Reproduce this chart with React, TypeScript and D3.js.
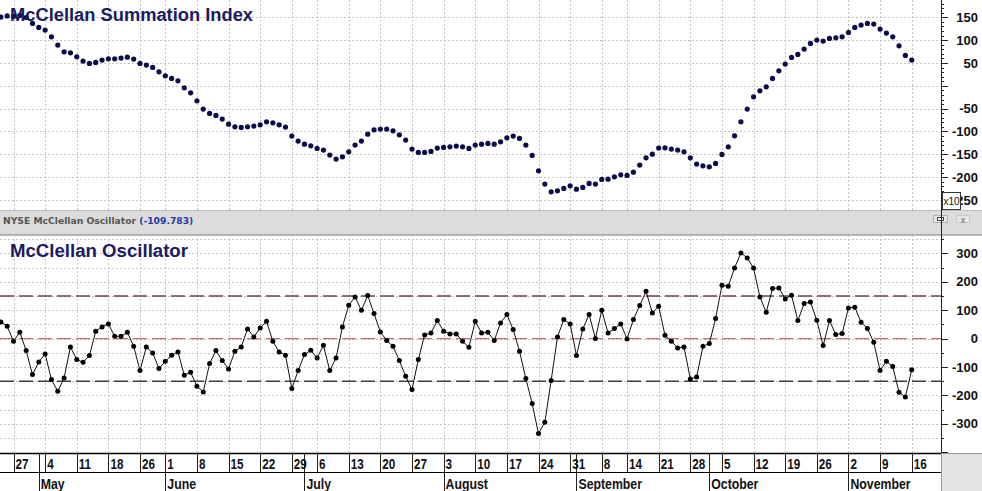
import React from "react";
import * as d3 from "d3";

// trading-day index 0 = Apr 27; data begins at index -2
const startIndex = -2;

const summation = [
  150.5, 153, 152, 154, 149.5, 136.6, 127.9, 122, 107.3, 89.1, 74.4, 72.3, 63.5, 54.1, 49.1, 51.2, 56.3, 59.1, 59.1, 60.7,
  62.8, 58.5, 49.1, 45.3, 40.3, 30.7, 21.9, 16.2, 10.9, -4.4, -15.3, -32.8, -51, -60.4, -64.8, -72.9, -83.9, -89.8, -91.1,
  -89.8, -88.2, -85.4, -78.8, -81, -85.4, -90.4, -110.1, -121.1, -127.7, -131.4, -137.1, -140.8, -151.7,
  -160.5, -155.5, -144.5, -129.8, -121.1, -105.8, -96.3, -94.8, -94.8, -98.5, -107.3, -118.9, -138.6, -145.8, -145.8,
  -143.6, -136.4, -134.9, -133.6, -132, -133.6, -137.1, -129.8, -127.7, -126.1, -127.7, -122.6, -113.9, -110.1, -115.2,
  -129.8, -152.4, -186.1, -215.2, -232.1, -229.9, -224.7, -219, -226.2, -222.5, -213.7, -215.2, -204.9, -204.3, -199.3,
  -194.9, -196.2, -189, -173.6, -157.7, -149.6, -136.4,
  -135.8, -138.6, -140.8, -144.5, -157.7, -171.4, -175.2, -177.4, -169.9, -150.2, -133.6, -109.5, -78.8, -51, -24.1,
  -10.9, -2.2, 16.2, 32.8, 47.5, 62.2, 68.8, 80.4, 92.8, 100.1, 97.9, 103.8, 105.1, 107.3, 116.9, 127.9, 132.9, 136.6,
  135.1, 124.2, 115.4, 107.3, 87.6, 66.6, 56.3,
];

const oscillator = [
  58.8, 43.3, -9.5, 22.2, -42.3, -126.8, -82, -53.9, -144.4, -185.6, -138.4, -29.2, -73.9, -83.5, -59.9, 25.7, 41.2,
  51.8, 8.1, 8.1, 22.2, -27.1, -112.7, -29.2, -50.4, -105.6, -79.9, -58.8, -46.8, -129.2, -118.7, -168, -187.7, -88,
  -42.3, -77.5, -106.7, -44.7, -29.2, 34.2, 6, 37.7, 60.9, -9.5, -46.8, -58.8, -176.1, -112.7, -56.3, -41.2, -68, -23.6,
  -112.7,
  -68, 41.2, 117.3, 146.8, 99.6, 151.4, 88, 23.6, -7, -27.1, -77.5, -132.7, -179.6, -73.9, 13, 20.1, 63.4, 25.7, 16.5,
  16.5, -9.5, -30.6, 60.9, 20.1, 22.2, -7, 55.3, 84.5, 31.7, -44.7, -140.8, -228.9, -334.5, -294.7, -147.9, 6, 66.9,
  51.8, -59.9, 34.2, 84.5, 0, 99.6, 20.1, 35.2, 51.8, -1, 66.9, 116.2, 166.5, 90.5, 113.7,
  11.6, -9.5, -32.7, -29.2, -141.9, -134.9, -27.1, -17.6, 70.4, 187.7, 184.2, 248.9, 301.8, 284.2, 248.9, 146.8, 92.6,
  176.1, 178.5, 139.8, 152.5, 63.4, 123.2, 129.2, 64.4, -24.6, 63.4, 14.1, 17.6, 108.1, 110.2, 57.4, 35.2, -13, -112.7,
  -79.9, -98.6, -189.1, -205.3, -109.783,
];

const weekTickIdx = [0, 5, 10, 15, 20, 24, 29, 34, 39, 44, 48, 53, 58, 63, 68, 73, 78, 83, 88, 93, 97, 102, 107, 112, 117, 122, 127, 132, 137, 142];
const weekTickLabels = ["27", "4", "11", "18", "26", "1", "8", "15", "22", "29", "6", "13", "20", "27", "3", "10", "17", "24", "31", "8", "14", "21", "28", "5", "12", "19", "26", "2", "9", "16"];
const monthIdx = [4, 24, 46, 68, 89, 110, 132];
const monthLabels = ["May", "June", "July", "August", "September", "October", "November"];

const topTickLabels = [150, 100, 50, -50, -100, -150, -200, -250];
const bottomTickLabels = [300, 200, 100, 0, -100, -200, -300];
const bandLevels = [150, 0, -150];
const lastValueText = "(-109.783)";

const W = 982;
const H = 491;
const plotRight = 941;
const topY0 = 0, topY1 = 210;
const botY0 = 235, botY1 = 453;
const rowY1 = 472;

export default function App() {
  const x = d3.scaleLinear().domain([0, 142]).range([13.5, 911.7]);
  const yTop = d3.scaleLinear().domain([-250, 150]).range([200, 17.3]);
  const yBot = d3.scaleLinear().domain([-300, 300]).range([423.8, 253.4]);

  const sumPts = summation.map((v, k) => ({ i: k + startIndex, v }));
  const oscPts = oscillator.map((v, k) => ({ i: k + startIndex, v }));

  const oscLine = d3
    .line<{ i: number; v: number }>()
    .x((d) => x(d.i))
    .y((d) => yBot(d.v));

  const topGrid = d3.range(-250, 151, 50);
  const botGrid = d3.range(-350, 351, 50);
  const topMinor = d3.range(-270, 190, 10).filter((v) => yTop(v) > topY0 && yTop(v) < topY1);
  const botMinor = d3.range(-400, 400, 50).filter((v) => yBot(v) > botY0 && yBot(v) < botY1);

  const axisFont = "'Liberation Sans', Arial, sans-serif";
  const gridColor = "#c4c4c4";
  const bandColors = ["#6a4444", "#c07070", "#3c3c3c"];

  return (
    <svg width={W} height={H} style={{ position: "absolute", left: 0, top: 0, background: "#fff" }}>
      <rect x={0} y={0} width={W} height={H} fill="#fff" />
      <defs>
        <clipPath id="clipTop">
          <rect x={0} y={topY0} width={plotRight} height={topY1 - topY0} />
        </clipPath>
        <clipPath id="clipBot">
          <rect x={0} y={botY0} width={plotRight} height={botY1 - botY0} />
        </clipPath>
      </defs>

      {/* Top panel grid */}
      <g stroke={gridColor} strokeWidth={1} strokeDasharray="2,2">
        {topGrid.map((v) => (
          <line key={"tg" + v} x1={0} x2={plotRight} y1={Math.round(yTop(v)) + 0.5} y2={Math.round(yTop(v)) + 0.5} />
        ))}
        {weekTickIdx.map((i) => (
          <line key={"tv" + i} x1={Math.round(x(i)) + 0.5} x2={Math.round(x(i)) + 0.5} y1={topY0} y2={topY1} />
        ))}
      </g>

      {/* Summation dots */}
      <g clipPath="url(#clipTop)" fill="#0c0c4a">
        {sumPts.map((d) => (
          <circle key={"s" + d.i} cx={x(d.i)} cy={yTop(d.v)} r={2.6} />
        ))}
      </g>
      <text
        x={10}
        y={20.5}
        fontFamily={axisFont}
        fontWeight="bold"
        fontSize={18}
        fill="#1b1b5e"
        textLength={243}
        lengthAdjust="spacingAndGlyphs"
      >
        McClellan Summation Index
      </text>

      {/* Header bar */}
      <rect x={0} y={211} width={W} height={24} fill="#dcdcdc" />
      <line x1={0} x2={W} y1={210.5} y2={210.5} stroke="#bdbdbd" />
      <line x1={0} x2={W} y1={235} y2={235} stroke="#7a7a7a" strokeWidth={1.2} />
      <text x={3} y={224} fontFamily="'DejaVu Sans', Verdana, sans-serif" fontWeight="bold" fontSize={9.2} fill="#555">
        <tspan>NYSE McClellan Oscillator </tspan>
        <tspan fill="#1c3aa6">{lastValueText}</tspan>
      </text>
      <rect x={933.5} y={215.5} width={14} height={7} fill="#e6e6e6" stroke="#b0b0b0" />
      <rect x={937.5} y={217.5} width={6} height={3} fill="#fff" stroke="#444" />
      <rect x={956.5} y={215.5} width={13} height={7} fill="#e6e6e6" stroke="#c8c8c8" />
      <text x={963} y={222.5} textAnchor="middle" fontFamily={axisFont} fontSize={9} fill="#666">
        x
      </text>

      {/* Bottom panel grid */}
      <g stroke={gridColor} strokeWidth={1} strokeDasharray="2,2">
        {botGrid
          .filter((v) => yBot(v) > botY0 && yBot(v) < botY1)
          .map((v) => (
            <line key={"bg" + v} x1={0} x2={plotRight} y1={Math.round(yBot(v)) + 0.5} y2={Math.round(yBot(v)) + 0.5} />
          ))}
        {weekTickIdx.map((i) => (
          <line key={"bv" + i} x1={Math.round(x(i)) + 0.5} x2={Math.round(x(i)) + 0.5} y1={botY0} y2={botY1} />
        ))}
      </g>
      {bandLevels.map((v, k) => (
        <line
          key={"band" + v}
          x1={0}
          x2={plotRight}
          y1={yBot(v)}
          y2={yBot(v)}
          stroke={bandColors[k]}
          strokeWidth={1.4}
          strokeDasharray="14,5"
        />
      ))}
      <g clipPath="url(#clipBot)">
        <path d={oscLine(oscPts) || ""} fill="none" stroke="#111" strokeWidth={1} />
        {oscPts.map((d) => (
          <circle key={"o" + d.i} cx={x(d.i)} cy={yBot(d.v)} r={2.5} fill="#000" />
        ))}
      </g>
      <text
        x={10}
        y={257}
        fontFamily={axisFont}
        fontWeight="bold"
        fontSize={17.5}
        fill="#1b1b5e"
        textLength={178}
        lengthAdjust="spacingAndGlyphs"
      >
        McClellan Oscillator
      </text>

      {/* Right axes */}
      <line x1={plotRight + 0.5} x2={plotRight + 0.5} y1={0} y2={botY1} stroke="#222" />
      <g stroke="#222">
        {topMinor.map((v) => (
          <line
            key={"tm" + v}
            x1={plotRight}
            x2={plotRight + (v % 50 === 0 ? 7 : 3)}
            y1={Math.round(yTop(v)) + 0.5}
            y2={Math.round(yTop(v)) + 0.5}
          />
        ))}
        {botMinor.map((v) => (
          <line
            key={"bm" + v}
            x1={plotRight}
            x2={plotRight + (v % 100 === 0 ? 7 : 3)}
            y1={Math.round(yBot(v)) + 0.5}
            y2={Math.round(yBot(v)) + 0.5}
          />
        ))}
      </g>
      <g fontFamily={axisFont} fontWeight="bold" fontSize={13} fill="#111" textAnchor="end">
        {topTickLabels.map((v) => (
          <text key={"tl" + v} x={978} y={yTop(v) + 4.6}>
            {v}
          </text>
        ))}
        {bottomTickLabels.map((v) => (
          <text key={"bl" + v} x={978} y={yBot(v) + 4.6}>
            {v}
          </text>
        ))}
      </g>
      <rect x={942.5} y={192.5} width={18} height={17} fill="#fff" stroke="#333" />
      <text x={943.5} y={205} fontFamily={axisFont} fontSize={10} fill="#111">
        x10
      </text>

      {/* X axis rows */}
      <rect x={0} y={botY1} width={plotRight} height={H - botY1} fill="#fff" />
      <line x1={0} x2={plotRight} y1={botY1 + 0.5} y2={botY1 + 0.5} stroke="#000" strokeWidth={1.6} />
      <line x1={0} x2={plotRight} y1={rowY1 + 0.5} y2={rowY1 + 0.5} stroke="#000" />
      <g stroke="#222">
        {weekTickIdx.map((i) => (
          <line key={"wt" + i} x1={Math.round(x(i)) + 0.5} x2={Math.round(x(i)) + 0.5} y1={botY1} y2={rowY1} />
        ))}
        {monthIdx.map((i) => (
          <line key={"mt" + i} x1={Math.round(x(i)) + 0.5} x2={Math.round(x(i)) + 0.5} y1={botY1} y2={H} />
        ))}
      </g>
      <g fontFamily={axisFont} fontWeight="bold" fontSize={15} fill="#111">
        {weekTickIdx.map((i, k) => (
          <text key={"wl" + i} transform={`translate(${x(i) + 2},468.5) scale(0.78,1)`}>
            {weekTickLabels[k]}
          </text>
        ))}
        {monthIdx.map((i, k) => (
          <text key={"ml" + i} transform={`translate(${x(i) + 2},488.5) scale(0.82,1)`}>
            {monthLabels[k]}
          </text>
        ))}
      </g>
      <rect x={plotRight + 0.5} y={botY1 + 0.5} width={W - plotRight} height={H - botY1} fill="#e4e4e4" stroke="#999" />
    </svg>
  );
}
